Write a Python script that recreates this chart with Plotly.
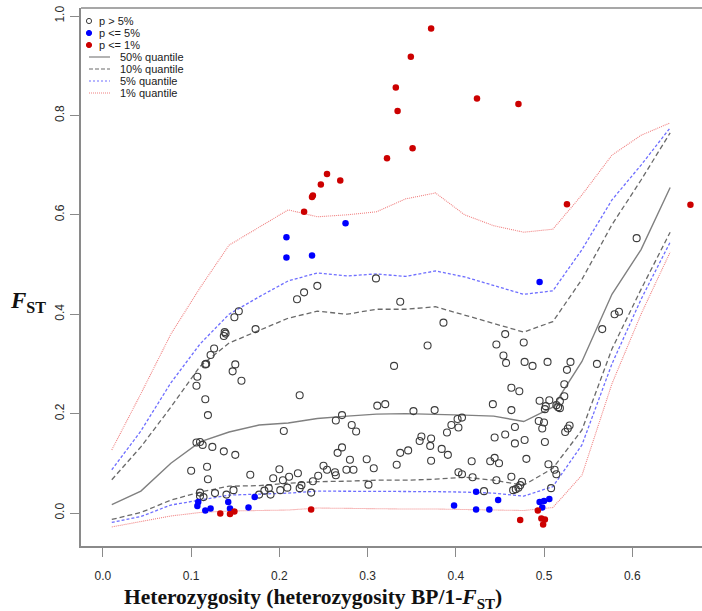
import plotly.graph_objects as go

# ---------------- data ----------------
q_x = [0.01, 0.043, 0.077, 0.11, 0.143, 0.177, 0.21, 0.243, 0.277, 0.31,
       0.343, 0.377, 0.41, 0.443, 0.477, 0.51, 0.543, 0.577, 0.61, 0.643]
q50 = [0.017, 0.044, 0.100, 0.143, 0.163, 0.177, 0.181, 0.190, 0.195, 0.199,
       0.200, 0.199, 0.197, 0.195, 0.184, 0.213, 0.305, 0.44, 0.53, 0.655]
q10_hi = [0.067, 0.133, 0.213, 0.295, 0.342, 0.368, 0.392, 0.406, 0.400, 0.410,
          0.410, 0.415, 0.398, 0.381, 0.364, 0.385, 0.47, 0.58, 0.67, 0.765]
q10_lo = [-0.013, 0.001, 0.026, 0.042, 0.054, 0.055, 0.060, 0.063, 0.064, 0.066,
          0.066, 0.068, 0.072, 0.066, 0.056, 0.090, 0.167, 0.33, 0.45, 0.565]
q5_hi = [0.087, 0.165, 0.262, 0.34, 0.40, 0.435, 0.467, 0.483, 0.477, 0.481,
         0.476, 0.487, 0.475, 0.458, 0.44, 0.447, 0.53, 0.63, 0.70, 0.775]
q5_lo = [-0.019, -0.007, 0.016, 0.026, 0.036, 0.038, 0.040, 0.044, 0.044, 0.044,
         0.043, 0.043, 0.042, 0.040, 0.034, 0.053, 0.137, 0.30, 0.43, 0.545]
q1_hi = [0.127, 0.24, 0.36, 0.453, 0.539, 0.575, 0.61, 0.596, 0.600, 0.606,
         0.632, 0.644, 0.60, 0.578, 0.565, 0.571, 0.64, 0.72, 0.76, 0.785]
q1_lo = [-0.028, -0.017, -0.006, 0.001, 0.004, 0.005, 0.006, 0.010, 0.009, 0.008,
         0.008, 0.008, 0.007, 0.006, 0.005, 0.011, 0.076, 0.26, 0.40, 0.525]

ns_x = [0.3095, 0.243, 0.228, 0.220, 0.154, 0.149, 0.138, 0.139, 0.137, 0.173, 0.126,
        0.122, 0.116, 0.117, 0.150, 0.147, 0.157, 0.107, 0.106, 0.116, 0.119, 0.223,
        0.311, 0.320, 0.271, 0.264, 0.282, 0.287, 0.205, 0.106, 0.110, 0.113, 0.124,
        0.137, 0.150, 0.271, 0.266, 0.280, 0.299, 0.307, 0.100, 0.118, 0.119, 0.167,
        0.200, 0.193, 0.204, 0.211, 0.221, 0.250, 0.254, 0.244, 0.263, 0.264, 0.276,
        0.284, 0.301, 0.225, 0.223, 0.238, 0.236, 0.201, 0.209, 0.188, 0.183, 0.190,
        0.177, 0.148, 0.140, 0.127, 0.110, 0.110, 0.114,
        0.337, 0.386, 0.456, 0.446, 0.477, 0.368, 0.330, 0.454, 0.457, 0.478, 0.487,
        0.504, 0.530, 0.526, 0.523, 0.463, 0.472, 0.523, 0.518, 0.495, 0.506, 0.502,
        0.501, 0.514, 0.516, 0.518, 0.352, 0.376, 0.442, 0.463, 0.402, 0.407, 0.403,
        0.395, 0.390, 0.467, 0.456, 0.494, 0.500, 0.498, 0.529, 0.527, 0.524, 0.444,
        0.478, 0.467, 0.501, 0.361, 0.359, 0.372, 0.371, 0.384, 0.391, 0.346, 0.337,
        0.333, 0.372, 0.418, 0.439, 0.444, 0.449, 0.480, 0.505, 0.403, 0.407, 0.419,
        0.446, 0.463, 0.475, 0.473, 0.471, 0.468, 0.465, 0.432, 0.508, 0.512, 0.514,
        0.605, 0.585, 0.580, 0.566, 0.560]
ns_y = [0.472, 0.457, 0.444, 0.430, 0.406, 0.394, 0.364, 0.361, 0.356, 0.370, 0.331,
        0.318, 0.299, 0.300, 0.299, 0.285, 0.266, 0.274, 0.256, 0.229, 0.197, 0.237,
        0.216, 0.219, 0.197, 0.186, 0.177, 0.164, 0.165, 0.142, 0.143, 0.137, 0.133,
        0.124, 0.117, 0.132, 0.121, 0.107, 0.108, 0.090, 0.085, 0.093, 0.068, 0.077,
        0.088, 0.070, 0.066, 0.073, 0.080, 0.095, 0.087, 0.075, 0.082, 0.076, 0.087,
        0.087, 0.057, 0.056, 0.050, 0.064, 0.041, 0.046, 0.051, 0.050, 0.045, 0.037,
        0.037, 0.046, 0.037, 0.040, 0.041, 0.034, 0.032,
        0.425, 0.383, 0.360, 0.339, 0.343, 0.337, 0.296, 0.317, 0.302, 0.304, 0.296,
        0.304, 0.304, 0.288, 0.259, 0.252, 0.245, 0.235, 0.225, 0.226, 0.227, 0.215,
        0.209, 0.217, 0.213, 0.211, 0.205, 0.207, 0.219, 0.207, 0.189, 0.192, 0.172,
        0.177, 0.162, 0.173, 0.158, 0.185, 0.182, 0.170, 0.176, 0.170, 0.163, 0.152,
        0.147, 0.140, 0.143, 0.154, 0.145, 0.150, 0.135, 0.129, 0.117, 0.126, 0.121,
        0.097, 0.105, 0.104, 0.104, 0.111, 0.100, 0.109, 0.098, 0.082, 0.078, 0.072,
        0.066, 0.073, 0.063, 0.056, 0.051, 0.048, 0.046, 0.044, 0.050, 0.087, 0.078,
        0.553, 0.405, 0.400, 0.370, 0.300]

p5_x = [0.208, 0.208, 0.237, 0.275, 0.495,
        0.108, 0.107, 0.116, 0.122, 0.142, 0.144, 0.165, 0.172,
        0.423, 0.448, 0.398, 0.423, 0.438, 0.495, 0.500, 0.506, 0.498]
p5_y = [0.555, 0.514, 0.518, 0.583, 0.465,
        0.022, 0.014, 0.005, 0.009, 0.022, 0.009, 0.011, 0.032,
        0.043, 0.026, 0.015, 0.007, 0.007, 0.022, 0.024, 0.028, 0.011]

p1_x = [0.372, 0.349, 0.332, 0.334, 0.424, 0.471, 0.351, 0.322, 0.254, 0.269,
        0.247, 0.238, 0.237, 0.228, 0.526, 0.666,
        0.133, 0.144, 0.149, 0.236, 0.493, 0.473, 0.497, 0.501, 0.499]
p1_y = [0.975, 0.918, 0.856, 0.809, 0.834, 0.823, 0.734, 0.714, 0.682, 0.669,
        0.661, 0.639, 0.636, 0.606, 0.621, 0.620,
        -0.001, -0.002, 0.003, 0.007, 0.005, -0.014, -0.011, -0.013, -0.023]

x_ticks = [0.0, 0.1, 0.2, 0.3, 0.4, 0.5, 0.6]
y_ticks = [0.0, 0.2, 0.4, 0.6, 0.8, 1.0]
legend_points = ["p > 5%", "p <= 5%", "p <= 1%"]
legend_lines = ["50% quantile", "10% quantile", "5% quantile", "1% quantile"]

# ---------------- layout constants ----------------
W, H = 702, 611
L, R, T, B = 81, 0, 8, 65
AX = "#8a8a8a"
GRAY_LINE = "#808080"
DASH_GRAY = "#6a6a6a"
BLUE_LINE = "#6e6eff"
RED_LINE = "#f08080"
OPEN_C = "#3c3c3c"
BLUE_PT = "#0000ff"
RED_PT = "#cc0000"


def fx(p):
    return (p - L) / (W - L - R)


def fy(p):
    return (H - B - p) / (H - T - B)


fig = go.Figure()

line_specs = [
    (q50, GRAY_LINE, "solid", 1.4),
    (q10_hi, DASH_GRAY, "5px,3px", 1.3),
    (q10_lo, DASH_GRAY, "5px,3px", 1.3),
    (q5_hi, BLUE_LINE, "3px,2px", 1.3),
    (q5_lo, BLUE_LINE, "3px,2px", 1.3),
    (q1_hi, RED_LINE, "1px,1px", 1.1),
    (q1_lo, RED_LINE, "1px,1px", 1.1),
]
for ys, col, dash, w in line_specs:
    fig.add_trace(go.Scatter(x=q_x, y=ys, mode="lines",
                             line=dict(color=col, width=w, dash=dash),
                             hoverinfo="skip"))

fig.add_trace(go.Scatter(x=ns_x, y=ns_y, mode="markers",
                         marker=dict(symbol="circle-open", size=7, color=OPEN_C,
                                     line=dict(width=1.1, color=OPEN_C))))
fig.add_trace(go.Scatter(x=p5_x, y=p5_y, mode="markers",
                         marker=dict(symbol="circle", size=6.5, color=BLUE_PT,
                                     line=dict(width=0))))
fig.add_trace(go.Scatter(x=p1_x, y=p1_y, mode="markers",
                         marker=dict(symbol="circle", size=6.5, color=RED_PT,
                                     line=dict(width=0))))

tick_font = dict(family="Liberation Sans, Arial, sans-serif", size=12, color="#2a2a2a")

fig.update_layout(
    width=W, height=H,
    margin=dict(l=L, r=R, t=T, b=B),
    paper_bgcolor="white", plot_bgcolor="white",
    showlegend=False,
    xaxis=dict(range=[-0.0249, 0.6791], tickvals=x_ticks, tickformat=".1f",
               ticks="outside", ticklen=9, tickcolor=AX, tickwidth=1.2,
               showline=True, linecolor=AX, linewidth=1.5,
               showgrid=False, zeroline=False, tickfont=tick_font,
               ticklabelstandoff=9),
    yaxis=dict(range=[-0.0664, 1.0161], tickvals=y_ticks, tickformat=".1f",
               ticks="outside", ticklen=9, tickcolor=AX, tickwidth=1.2,
               showline=True, linecolor=AX, linewidth=1.5, tickangle=-90,
               showgrid=False, zeroline=False, tickfont=tick_font,
               ticklabelstandoff=1),
)

shapes = [dict(type="line", xref="paper", yref="paper", x0=0, x1=1, y0=1, y1=1,
               line=dict(color=AX, width=1.5))]
annotations = []

# axis titles
annotations.append(dict(
    xref="paper", yref="paper", x=fx(313), y=fy(598), xanchor="center", yanchor="middle",
    text="<b>Heterozygosity (heterozygosity BP/1-<i>F</i><sub>ST</sub>)</b>",
    showarrow=False, font=dict(family="Liberation Serif, Times New Roman, serif",
                                size=21.5, color="#111")))
annotations.append(dict(
    xref="paper", yref="paper", x=fx(28), y=fy(302), xanchor="center", yanchor="middle",
    text="<b><i>F</i><sub>ST</sub></b>",
    showarrow=False, font=dict(family="Liberation Serif, Times New Roman, serif",
                                size=23, color="#111")))

# manual legend
leg_font = dict(family="Liberation Sans, Arial, sans-serif", size=11, color="#1a1a1a")
row_y = [21, 33, 45, 57, 69, 81, 93]
pt_styles = [("open", OPEN_C), ("fill", BLUE_PT), ("fill", RED_PT)]
for i, (lab, (kind, col)) in enumerate(zip(legend_points, pt_styles)):
    shp = dict(type="circle", xref="paper", yref="paper",
               xsizemode="pixel", ysizemode="pixel",
               xanchor=fx(89), yanchor=fy(row_y[i]),
               x0=-2.6, x1=2.6, y0=-2.6, y1=2.6,
               line=dict(color=col, width=1))
    if kind == "fill":
        shp["fillcolor"] = col
    shapes.append(shp)
    annotations.append(dict(xref="paper", yref="paper", x=fx(97), y=fy(row_y[i]),
                            xanchor="left", yanchor="middle", text=lab,
                            showarrow=False, font=leg_font))

ln_styles = [(GRAY_LINE, "solid"), (DASH_GRAY, "4px,2px"), (BLUE_LINE, "2px,2px"),
             (RED_LINE, "1px,1px")]
for j, (lab, (col, dash)) in enumerate(zip(legend_lines, ln_styles)):
    yy = fy(row_y[3 + j])
    shapes.append(dict(type="line", xref="paper", yref="paper",
                       x0=fx(89), x1=fx(110), y0=yy, y1=yy,
                       line=dict(color=col, width=1.2, dash=dash)))
    annotations.append(dict(xref="paper", yref="paper", x=fx(118), y=yy,
                            xanchor="left", yanchor="middle", text=lab,
                            showarrow=False, font=leg_font))

fig.update_layout(shapes=shapes, annotations=annotations)

fig.write_html("out.html")
